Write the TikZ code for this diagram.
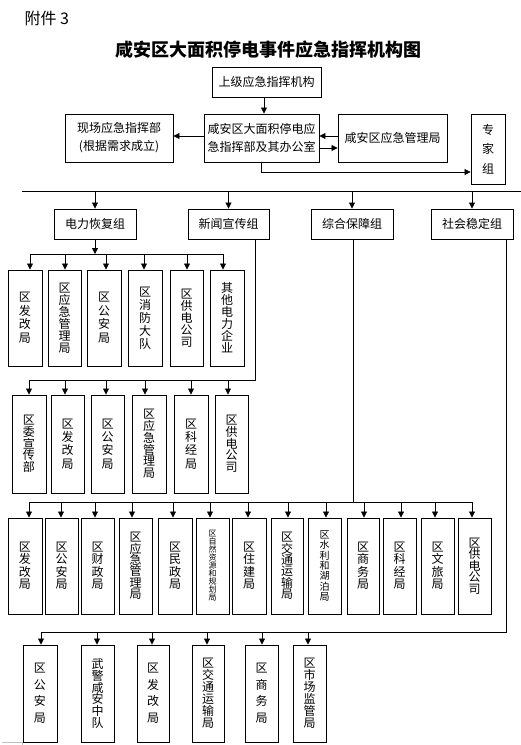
\documentclass[tikz,border=0pt]{standalone}
\usepackage{fontspec}
\setmainfont{Noto Sans CJK SC}
\usetikzlibrary{arrows.meta}
\newcommand\bx[7]{\node[#6, minimum width={#4-#2}, minimum height={#5-#3}] (#1) at ({(#2+#4)/2},{(#3+#5)/2}) {#7};}
\begin{document}
\begin{tikzpicture}[x=1pt,y=-1pt,
  box/.style={draw, line width=0.9pt, inner sep=0pt, align=center},
  hb/.style={box, font=\fontsize{12}{18}\selectfont},
  vb/.style={box, font=\fontsize{12}{#1}\selectfont},
  arr/.style={line width=0.8pt, -{Triangle[length=6pt,width=6pt]}},
  ln/.style={line width=0.8pt}]
\useasboundingbox (0,0) rectangle (521,745);
\node[anchor=west, font=\fontsize{16}{16}\selectfont] (att) at (21,18) {附件 3};
\node[font=\fontsize{18}{18}\selectfont\bfseries] (title) at (268,50) {咸安区大面积停电事件应急指挥机构图};
% top
\bx{up}{212}{67}{321}{97}{hb}{上级应急指挥机构}
\bx{cmd}{204}{114}{319}{162}{hb}{咸安区大面积停电应\\急指挥部及其办公室}
\bx{site}{65}{114}{173}{162}{hb}{现场应急指挥部\\(根据需求成立)}
\bx{ema}{338}{114}{447}{162}{hb}{咸安区应急管理局}
\bx{exp}{471}{114}{505}{184}{vb=19.5}{专\\家\\组}
\coordinate (t1) at (264,0);
\draw[arr] (up.south -| t1) -- (cmd.north -| t1);
\coordinate (h1) at (0,136); \coordinate (h2) at (0,148);
\draw[arr] (cmd.west |- h1) -- (site.east |- h1);
\draw[arr] (ema.west |- h1) -- (cmd.east |- h1);
\draw[arr] (cmd.east |- h2) -- (ema.west |- h2);
\coordinate (e1) at (261,172);
\draw[arr] (cmd.south -| e1) -- (e1) -- (exp.west |- e1);
% main line
\coordinate (m0) at (22,191); \coordinate (m1) at (521,191);
\draw[ln] (m0) -- (m1);
% groups
\bx{g1}{54}{209}{136}{239}{hb}{电力恢复组}
\bx{g2}{188}{209}{269}{239}{hb}{新闻宣传组}
\bx{g3}{311}{209}{393}{239}{hb}{综合保障组}
\bx{g4}{431}{209}{513}{239}{hb}{社会稳定组}
\foreach \g in {g1,g2,g3,g4} \draw[arr] (\g.north |- m0) -- (\g.north);
% row 1
\bx{r1a}{8}{270}{42}{366}{vb=13.5}{区\\发\\改\\局}
\bx{r1b}{48}{270}{81}{366}{vb=12}{区\\应\\急\\管\\理\\局}
\bx{r1c}{87}{270}{121}{366}{vb=13.5}{区\\公\\安\\局}
\bx{r1d}{128}{270}{162}{366}{vb=13}{区\\消\\防\\大\\队}
\bx{r1e}{170}{270}{203}{366}{vb=12}{区\\供\\电\\公\\司}
\bx{r1f}{210}{270}{244}{366}{vb=12}{其\\他\\电\\力\\企\\业}
\coordinate (b1l) at (30,254); \coordinate (b1r) at (223,254);
\draw[arr] (g1.south) -- (g1.south |- b1l);
\draw[ln] (b1l) -- (b1r);
\foreach \n/\x in {r1a/30,r1b/65,r1c/106,r1d/144,r1e/187,r1f/223}
  {\coordinate (tmp) at (\x,254); \draw[arr] (tmp) -- (tmp |- \n.north);}
% row 2
\bx{r2a}{12}{395}{46}{493}{vb=11.7}{区\\委\\宣\\传\\部}
\bx{r2b}{51}{395}{84}{493}{vb=13.3}{区\\发\\改\\局}
\bx{r2c}{91}{395}{124}{493}{vb=13.3}{区\\公\\安\\局}
\bx{r2d}{132}{395}{166}{493}{vb=11.7}{区\\应\\急\\管\\理\\局}
\bx{r2e}{174}{395}{208}{493}{vb=13.3}{区\\科\\经\\局}
\bx{r2f}{215}{395}{248}{493}{vb=11.7}{区\\供\\电\\公\\司}
\coordinate (v2) at (255,380); \coordinate (b2l) at (29,380);
\draw[ln] (g2.south -| v2) -- (v2) -- (b2l);
\foreach \n/\x in {r2a/29,r2b/65,r2c/106,r2d/145,r2e/191,r2f/228}
  {\coordinate (tmp) at (\x,380); \draw[arr] (tmp) -- (tmp |- \n.north);}
% row 3
\bx{r3a}{8}{518}{42}{614}{vb=12.5}{区\\发\\改\\局}
\bx{r3b}{45}{518}{78}{614}{vb=12.5}{区\\公\\安\\局}
\bx{r3c}{81}{518}{114}{614}{vb=12.5}{区\\财\\政\\局}
\bx{r3d}{119}{518}{152}{614}{vb=11.4}{区\\应\\急\\管\\理\\局}
\bx{r3e}{158}{518}{192}{614}{vb=12.5}{区\\民\\政\\局}
\bx{r3f}{196}{518}{229}{614}{box, font=\fontsize{8}{8}\selectfont}{区\\自\\然\\资\\源\\和\\规\\划\\局}
\bx{r3g}{232}{518}{266}{614}{vb=12.5}{区\\住\\建\\局}
\bx{r3h}{271}{518}{303}{614}{vb=11.4}{区\\交\\通\\运\\输\\局}
\bx{r3i}{308}{518}{341}{614}{box, font=\fontsize{10}{10.3}\selectfont}{区\\水\\利\\和\\湖\\泊\\局}
\bx{r3j}{347}{518}{379}{614}{vb=12.5}{区\\商\\务\\局}
\bx{r3k}{383}{518}{416}{614}{vb=12.5}{区\\科\\经\\局}
\bx{r3l}{421}{518}{454}{614}{vb=12.5}{区\\文\\旅\\局}
\bx{r3m}{458}{518}{491}{614}{vb=11.5}{区\\供\\电\\公\\司}
\coordinate (v3) at (353,502); \coordinate (b3l) at (29,502); \coordinate (b3r) at (472,502);
\draw[ln] (g3.south -| v3) -- (v3);
\draw[ln] (b3l) -- (b3r);
\foreach \n/\x in {r3a/29,r3b/61,r3c/95,r3d/132,r3e/173,r3f/210,r3g/248,r3h/288,r3i/326,r3j/364,r3k/401,r3l/435,r3m/472}
  {\coordinate (tmp) at (\x,502); \draw[arr] (tmp) -- (tmp |- \n.north);}
% row 4
\bx{r4a}{23}{645}{57}{742}{vb=16.5}{区\\公\\安\\局}
\bx{r4b}{81}{645}{114}{742}{vb=11.8}{武\\警\\咸\\安\\中\\队}
\bx{r4c}{137}{645}{169}{742}{vb=16.5}{区\\发\\改\\局}
\bx{r4d}{192}{645}{224}{742}{vb=12}{区\\交\\通\\运\\输\\局}
\bx{r4e}{245}{645}{278}{742}{vb=16.5}{区\\商\\务\\局}
\bx{r4f}{293}{645}{326}{742}{vb=12}{区\\市\\场\\监\\管\\局}
\coordinate (v4) at (506,632); \coordinate (b4l) at (41,632);
\draw[ln] (g4.south -| v4) -- (v4) -- (b4l);
\foreach \n/\x in {r4a/41,r4b/97,r4c/152,r4d/207,r4e/262,r4f/308}
  {\coordinate (tmp) at (\x,632); \draw[arr] (tmp) -- (tmp |- \n.north);}
% page corner mark
\draw[black!25, line width=0.6pt] (2,742) -- (22,742) -- (22,745);
\end{tikzpicture}
\end{document}
